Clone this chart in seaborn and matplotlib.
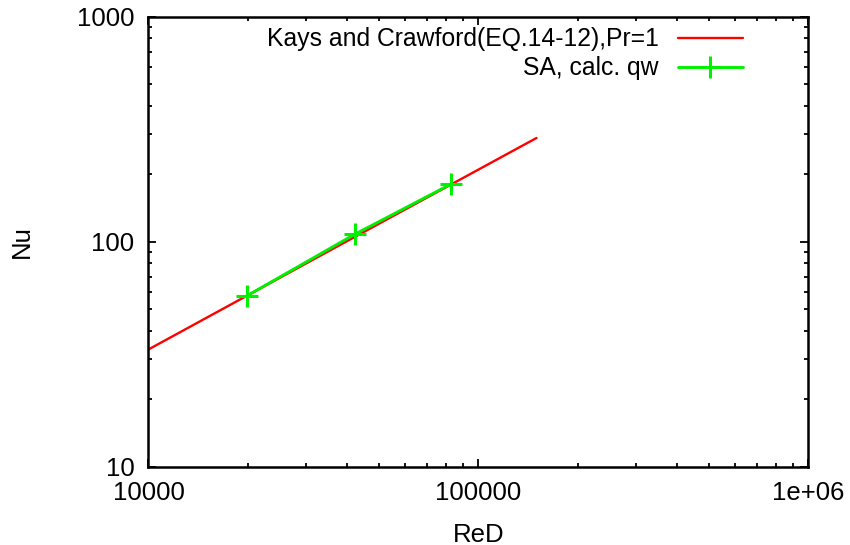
import matplotlib
matplotlib.use("Agg")
import matplotlib.pyplot as plt
import seaborn as sns
import pandas as pd
from matplotlib.ticker import LogLocator, NullFormatter, FixedLocator, FixedFormatter

# Data
kays_re = [10000, 20000, 40000, 80000, 150000]
kays_nu = [33.2, 57.8, 100.6, 175.0, 289.0]
sa_re = [19850, 42250, 82400]
sa_nu = [57.4, 108.0, 180.0]

kays_label = "Kays and Crawford(EQ.14-12),Pr=1"
sa_label = "SA, calc. qw"

xticks = [10000, 100000, 1000000]
xtick_labels = ["10000", "100000", "1e+06"]
yticks = [10, 100, 1000]
ytick_labels = ["10", "100", "1000"]

sns.set_theme(style="white")
plt.rcParams['font.family'] = ['Liberation Sans', 'DejaVu Sans']
plt.rcParams['text.color'] = 'black'
plt.rcParams['axes.labelcolor'] = 'black'
plt.rcParams['xtick.color'] = 'black'
plt.rcParams['ytick.color'] = 'black'

fig = plt.figure(figsize=(8.5, 5.45), dpi=100)
ax = fig.add_axes([0.1747, 0.1437, 0.951 - 0.1747, 0.9694 - 0.1437])

df_k = pd.DataFrame({"ReD": kays_re, "Nu": kays_nu})
df_s = pd.DataFrame({"ReD": sa_re, "Nu": sa_nu})

sns.lineplot(data=df_k, x="ReD", y="Nu", ax=ax, color="#ff0000", lw=1.7,
             label=kays_label)
sns.lineplot(data=df_s, x="ReD", y="Nu", ax=ax, color="#00f000", lw=2.1,
             marker="+", markersize=16, markeredgewidth=2.2,
             markeredgecolor="#00f000", label=sa_label)

ax.set_xscale("log")
ax.set_yscale("log")
ax.set_xlim(1e4, 1e6)
ax.set_ylim(10, 1000)

ax.xaxis.set_major_locator(FixedLocator(xticks))
ax.xaxis.set_major_formatter(FixedFormatter(xtick_labels))
ax.yaxis.set_major_locator(FixedLocator(yticks))
ax.yaxis.set_major_formatter(FixedFormatter(ytick_labels))
ax.xaxis.set_minor_locator(LogLocator(base=10, subs=range(2, 10)))
ax.yaxis.set_minor_locator(LogLocator(base=10, subs=range(2, 10)))
ax.xaxis.set_minor_formatter(NullFormatter())
ax.yaxis.set_minor_formatter(NullFormatter())

ax.tick_params(which="both", direction="in", top=True, right=True,
               bottom=True, left=True, colors="black", labelcolor="black",
               labelsize=18.5)
ax.tick_params(which="major", length=6, width=1.3, pad=10)
ax.tick_params(which="minor", length=3, width=1.3)
for s in ax.spines.values():
    s.set_visible(True)
    s.set_color("black")
    s.set_linewidth(1.8)

ax.set_xlabel("ReD", fontsize=18.5, labelpad=13, color="black")
ax.set_ylabel("Nu", fontsize=18.5, labelpad=31, color="black")
ax.grid(False)

leg = ax.legend(loc="upper right", bbox_to_anchor=(0.9227, 1.009),
                frameon=False, markerfirst=False,
                fontsize=17.8, handlelength=2.6, borderaxespad=0.2,
                labelspacing=0.2, handletextpad=0.8)
for t in leg.get_texts():
    t.set_color("black")

fig.savefig("out.png", dpi=100)
